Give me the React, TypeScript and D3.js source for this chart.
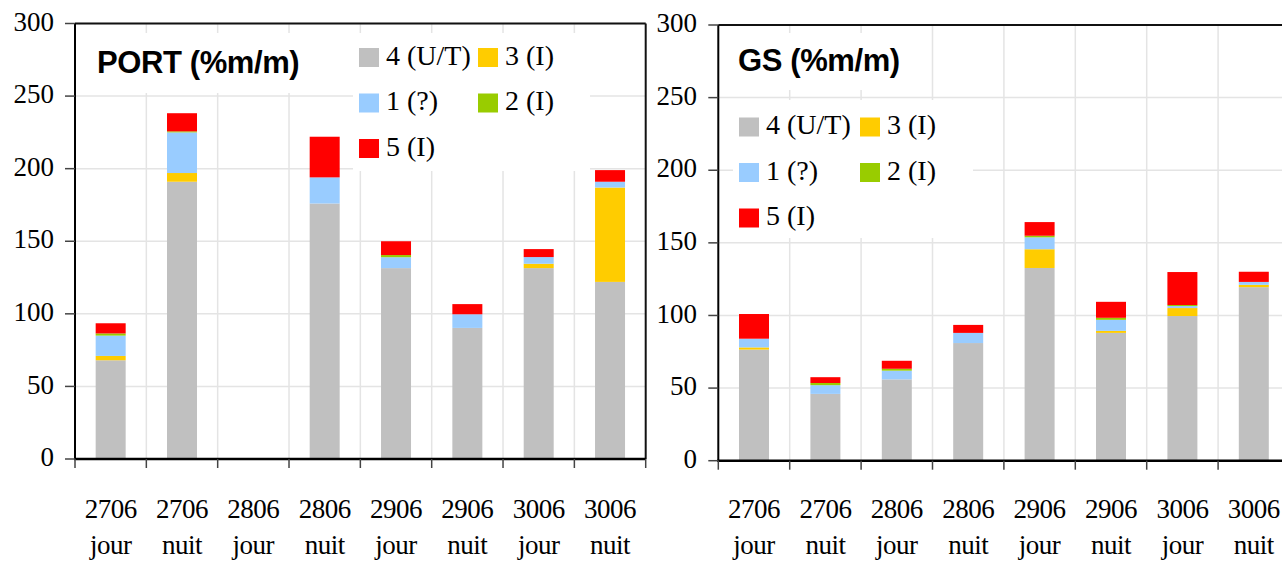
import { scaleBand, scaleLinear, stack } from 'd3';

const dates = ['2706', '2706', '2806', '2806', '2906', '2906', '3006', '3006'];
const periods = ['jour', 'nuit', 'jour', 'nuit', 'jour', 'nuit', 'jour', 'nuit'];
const yTicks = [0, 50, 100, 150, 200, 250, 300];

// stack order, bottom to top
const keys = ['4 (U/T)', '3 (I)', '1 (?)', '2 (I)', '5 (I)'];
const colors = ['#c0c0c0', '#ffcc00', '#99ccff', '#99cc00', '#ff0000'];
// legend layout: rows of two
const legendRows = [['4 (U/T)', '3 (I)'], ['1 (?)', '2 (I)'], ['5 (I)']];

const port4 = [68, 191, 0, 176, 131.5, 90.3, 131.5, 122];
const port3 = [3, 6, 0, 0, 0, 0, 3, 65];
const port1 = [14, 28, 0, 18, 7.5, 9.4, 4.6, 4];
const port2 = [1.5, 0.7, 0, 0, 1.5, 0, 0, 0];
const port5 = [7, 12.5, 0, 28, 9.5, 7, 5.5, 8];

const gs4 = [76.5, 46, 56, 81, 132.7, 88, 99.6, 119.5];
const gs3 = [1.5, 0, 0, 0, 12.9, 1.4, 5.5, 1.6];
const gs1 = [6, 6, 6, 7, 8.2, 7.6, 1.4, 2];
const gs2 = [0, 1.5, 1.3, 0, 1.1, 1.4, 0.7, 0];
const gs5 = [17, 4, 5.5, 5.5, 9.4, 11, 22.7, 7];

const rows = (s: number[][]) =>
  dates.map((d, i) => {
    const r: any = { i };
    keys.forEach((k, j) => (r[k] = s[j][i]));
    return r;
  });

const serif = "'Liberation Serif', 'Times New Roman', serif";
const sans = "'Liberation Sans', Arial, sans-serif";

function Panel(props: any) {
  const { data, title, left, right, top, bottom, titleX, titleY, titleBox, legendX, legendY, legendBox, col2, tickLabelX } = props;
  const x = scaleBand<number>().domain(dates.map((_, i) => i)).range([left, right]);
  const y = scaleLinear().domain([0, 300]).range([bottom, top]);
  const series = stack().keys(keys)(data);
  const bw = 30;
  const bounds = dates.map((_, i) => x(i)!).concat([right]);

  return (
    <g>
      {/* grid */}
      {yTicks.slice(1).map((t) => (
        <line key={'h' + t} x1={left} x2={right} y1={y(t)} y2={y(t)} stroke='#e4e4e4' strokeWidth={1.5} />
      ))}
      {bounds.slice(1, -1).map((bx, i) => (
        <line key={'v' + i} x1={bx} x2={bx} y1={top} y2={bottom} stroke='#e4e4e4' strokeWidth={1.5} />
      ))}
      <rect {...titleBox} fill='#fff' />
      <rect {...legendBox} fill='#fff' />

      {/* bars */}
      {series.map((s, si) =>
        s.map((d, i) =>
          d[1] - d[0] > 0 ? (
            <rect
              key={si + '-' + i}
              x={x(i)! + x.bandwidth() / 2 - bw / 2}
              width={bw}
              y={y(d[1])}
              height={y(d[0]) - y(d[1])}
              fill={colors[si]}
            />
          ) : null,
        ),
      )}

      {/* frame */}
      <line x1={left} x2={right} y1={top} y2={top} stroke='#111' strokeWidth={2} />
      <line x1={right} x2={right} y1={top} y2={bottom} stroke='#111' strokeWidth={2} />
      <line x1={left} x2={left} y1={top} y2={bottom + 1} stroke='#000' strokeWidth={2} />
      <line x1={left - 1} x2={right} y1={bottom} y2={bottom} stroke='#000' strokeWidth={2.5} />

      {/* y axis */}
      {yTicks.map((t) => (
        <g key={'yt' + t}>
          <line x1={left - 10} x2={left} y1={y(t)} y2={y(t)} stroke='#444' strokeWidth={1.5} />
          <text x={tickLabelX} y={y(t) + 1} textAnchor='end' dominantBaseline='middle' fontFamily={serif} fontSize={27}>
            {t}
          </text>
        </g>
      ))}

      {/* x axis */}
      {bounds.map((bx, i) => (
        <line key={'xt' + i} x1={bx} x2={bx} y1={bottom} y2={bottom + 9} stroke='#444' strokeWidth={1.5} />
      ))}
      {dates.map((d, i) => (
        <text key={'xl' + i} x={x(i)! + x.bandwidth() / 2} textAnchor='middle' fontFamily={serif} fontSize={27} letterSpacing={-0.5}>
          <tspan x={x(i)! + x.bandwidth() / 2} y={518}>{d}</tspan>
          <tspan x={x(i)! + x.bandwidth() / 2} y={554}>{periods[i]}</tspan>
        </text>
      ))}

      {/* title */}
      <text x={titleX} y={titleY} fontFamily={sans} fontWeight='bold' fontSize={31} letterSpacing={-0.4}>
        {title}
      </text>

      {/* legend */}
      {legendRows.map((row, ri) =>
        row.map((k, ci) => {
          const lx = legendX + ci * col2;
          const ly = legendY + ri * 45.5;
          return (
            <g key={k}>
              <rect x={lx} y={ly - 9.5} width={20} height={19} fill={colors[keys.indexOf(k)]} />
              <text x={lx + 27} y={ly + 1} dominantBaseline='middle' fontFamily={serif} fontSize={28}>
                {k}
              </text>
            </g>
          );
        }),
      )}
    </g>
  );
}

export default function App() {
  const portData = rows([port4, port3, port1, port2, port5]);
  const gsData = rows([gs4, gs3, gs1, gs2, gs5]);
  return (
    <svg width={1282} height={561} style={{ position: 'absolute', left: 0, top: 0, background: '#fff' }}>
      <Panel
        data={portData}
        title='PORT (%m/m)'
        left={75}
        right={645.7}
        top={23.5}
        bottom={459}
        tickLabelX={54}
        titleX={97}
        titleY={73}
        titleBox={{ x: 88, y: 33, width: 225, height: 60 }}
        legendX={359}
        legendY={57.5}
        col2={119}
        legendBox={{ x: 353, y: 33, width: 237, height: 138 }}
      />
      <Panel
        data={gsData}
        title='GS (%m/m)'
        left={718.3}
        right={1289.5}
        top={25}
        bottom={460.7}
        tickLabelX={697}
        titleX={738}
        titleY={71}
        titleBox={{ x: 730, y: 33, width: 180, height: 57 }}
        legendX={739}
        legendY={127}
        col2={121}
        legendBox={{ x: 733, y: 100, width: 240, height: 138 }}
      />
    </svg>
  );
}
